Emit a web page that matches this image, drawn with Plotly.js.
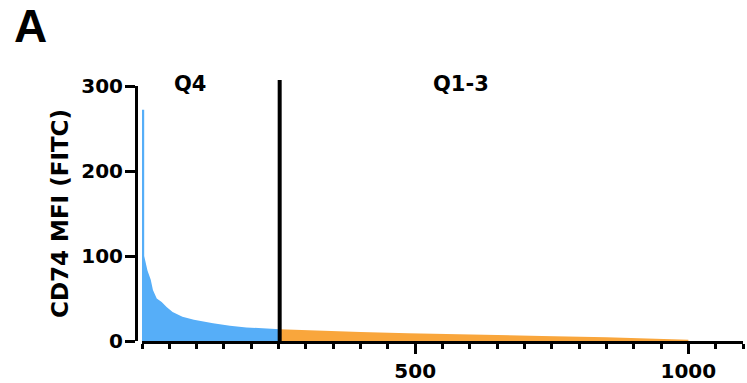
<!DOCTYPE html>
<html>
<head>
<meta charset="utf-8">
<script src="https://cdn.plot.ly/plotly-3.0.1.min.js"></script>
<style>html,body{margin:0;padding:0;background:#fff;}#chart{width:747px;height:383px;}</style>
</head>
<body>
<div id="chart"></div>
<script>
// Sorted CD74 MFI per cell (rank -> MFI)
const q4Rank = [0, 4, 4, 5.5, 10, 16, 20, 27, 36, 45, 56, 74, 95, 130, 161, 191, 221, 252];
const q4MFI  = [272, 272, 100, 95, 83, 72, 60, 50, 46, 40, 34, 28.5, 25, 21, 18, 16, 14.5, 13.7];
const q13Rank = [252, 300, 400, 487, 600, 732, 850, 977, 1000, 1000];
const q13MFI  = [13.7, 12.5, 10.5, 9, 7.3, 5.9, 4.5, 2.3, 1.5, 0];
const cutoffRank = 252;
const yTicks = [0, 100, 200, 300];
const xMajorTicks = [500, 1000];
const groupLabels = ["Q4", "Q1-3"];
const groupLabelRank = [88, 584];

const F = "DejaVu Sans, Liberation Sans, sans-serif";
const FA = "Liberation Sans Narrow, Liberation Sans, Arial, sans-serif";
const traces = [
  {x: q4Rank, y: q4MFI, type: "scatter", mode: "lines", fill: "tozeroy",
   line: {width: 0, color: "#56AEF8"}, fillcolor: "#56AEF8", hoverinfo: "skip", showlegend: false},
  {x: q13Rank, y: q13MFI, type: "scatter", mode: "lines", fill: "tozeroy",
   line: {width: 0, color: "#F9A63C"}, fillcolor: "#F9A63C", hoverinfo: "skip", showlegend: false}
];
const layout = {
  width: 747, height: 383,
  margin: {l: 136, r: 4, t: 86, b: 42},
  paper_bgcolor: "#fff", plot_bgcolor: "#fff",
  showlegend: false,
  xaxis: {
    domain: [6/607, 1], range: [0, 1100],
    showgrid: false, zeroline: false,
    showline: true, linecolor: "#000", linewidth: 3,
    tickmode: "array", tickvals: xMajorTicks, ticktext: xMajorTicks.map(String),
    ticks: "outside", ticklen: 10, tickwidth: 3, tickcolor: "#000",
    minor: {dtick: 50, tick0: 0, ticks: "outside", ticklen: 5, tickwidth: 3, tickcolor: "#000", showgrid: false},
    tickfont: {family: F, size: 20, color: "#000", weight: "bold"},
    ticklabelstandoff: 0
  },
  yaxis: {
    anchor: "free", position: 0, range: [0, 300],
    showgrid: false, zeroline: false,
    showline: true, linecolor: "#000", linewidth: 3,
    tickmode: "array", tickvals: yTicks,
    ticks: "outside", ticklen: 10, tickwidth: 3, tickcolor: "#000",
    tickfont: {family: F, size: 20, color: "#000", weight: "bold"},
    ticklabelstandoff: -2,
    title: {text: "CD74 MFI (FITC)", font: {family: F, size: 23, color: "#000", weight: "bold"}, standoff: 5}
  },
  shapes: [
    {type: "line", xref: "x", yref: "paper", x0: cutoffRank, x1: cutoffRank, y0: 0, y1: 1.0235,
     line: {color: "#000", width: 4}, layer: "above"}
  ],
  annotations: [
    {xref: "x", yref: "paper", x: groupLabelRank[0], y: 1.008, text: groupLabels[0], showarrow: false,
     xanchor: "center", yanchor: "middle", font: {family: F, size: 21, color: "#000", weight: "bold"}},
    {xref: "x", yref: "paper", x: groupLabelRank[1], y: 1.008, text: groupLabels[1], showarrow: false,
     xanchor: "center", yanchor: "middle", font: {family: F, size: 21, color: "#000", weight: "bold"}},
    {xref: "paper", yref: "paper", x: -0.1746, y: 1.235, text: "A", showarrow: false,
     xanchor: "center", yanchor: "middle", font: {family: FA, size: 46, color: "#000", weight: "bold"}}
  ]
};
Plotly.newPlot("chart", traces, layout, {staticPlot: true, displayModeBar: false});
</script>
</body>
</html>
